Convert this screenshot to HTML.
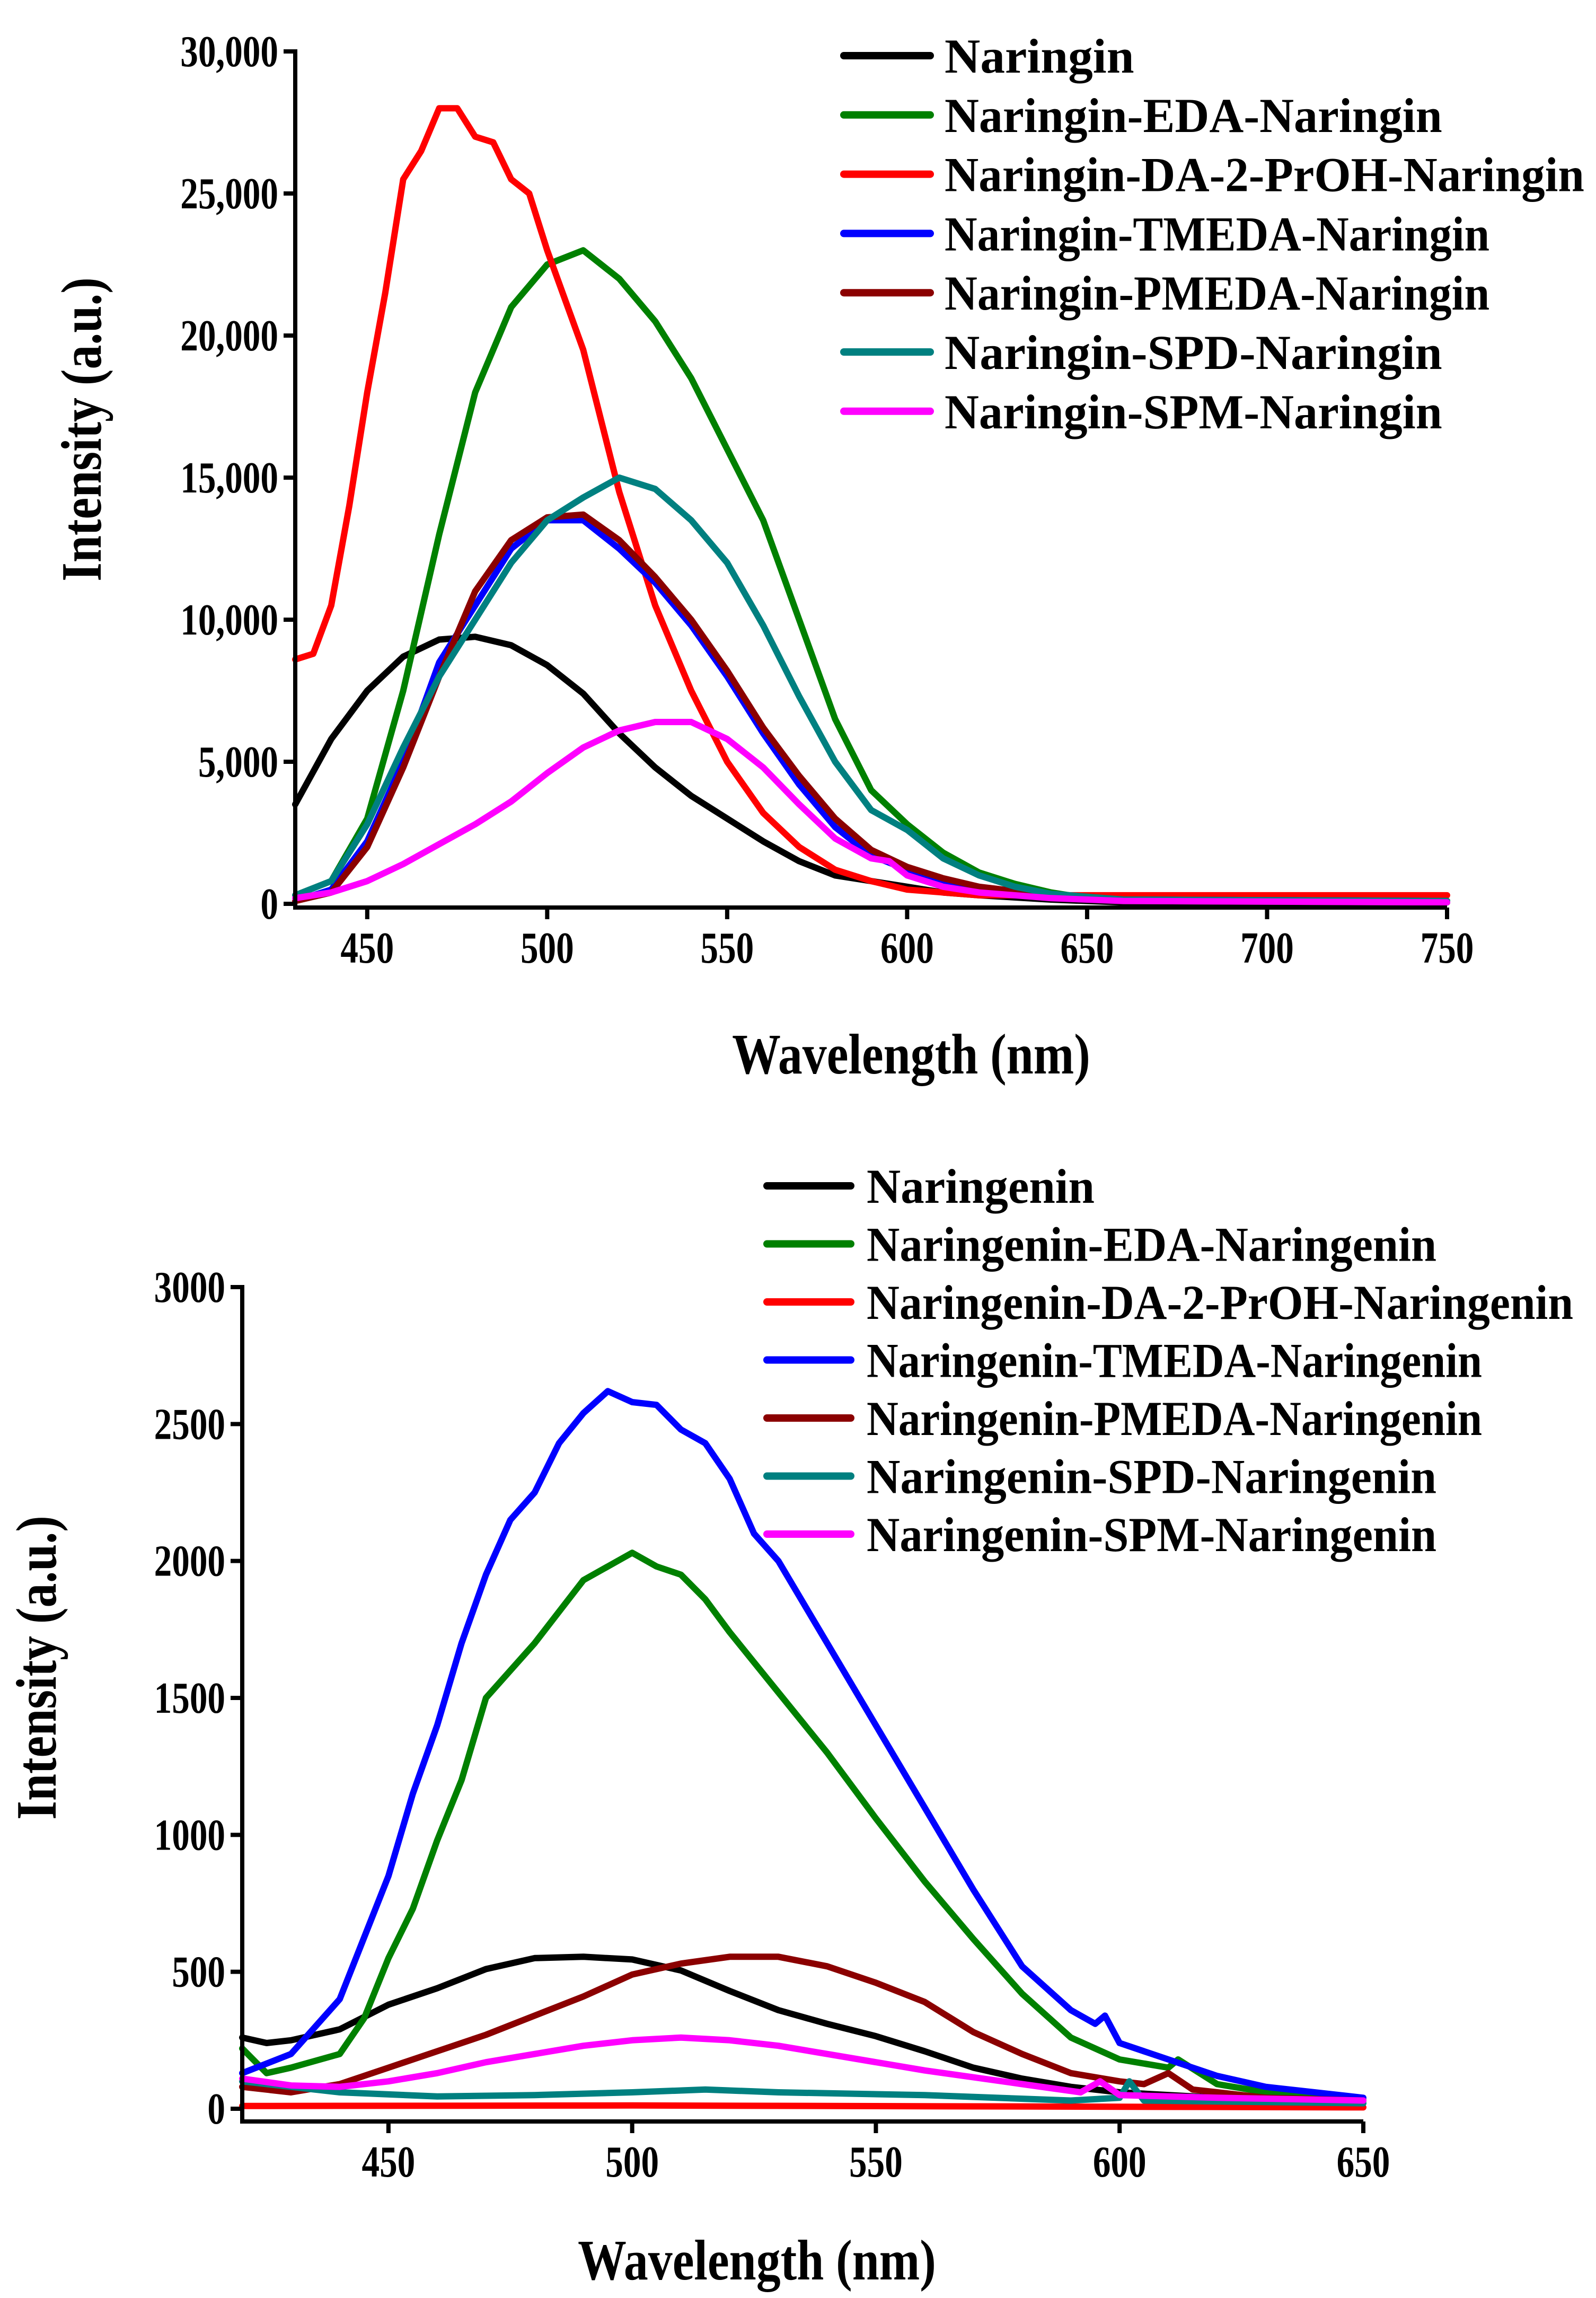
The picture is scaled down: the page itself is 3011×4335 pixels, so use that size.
<!DOCTYPE html>
<html><head><meta charset="utf-8"><style>
html,body{margin:0;padding:0;background:#fff}
svg{display:block}
text{font-family:"Liberation Serif",serif;font-weight:bold;fill:#000}
</style></head><body>
<svg id="fig" width="3011" height="4335" viewBox="0 0 3011 4335" xmlns="http://www.w3.org/2000/svg"></svg>
<script>
// ---------- Top chart data (intensity in a.u.) ----------
const topXTicks=[450,500,550,600,650,700,750];
const topYTicks=[0,5000,10000,15000,20000,25000,30000];
const topYTickLabels=["0","5,000","10,000","15,000","20,000","25,000","30,000"];
const topNames=["Naringin","Naringin-EDA-Naringin","Naringin-DA-2-PrOH-Naringin","Naringin-TMEDA-Naringin","Naringin-PMEDA-Naringin","Naringin-SPD-Naringin","Naringin-SPM-Naringin"];
const topBlackX=[430,440,450,460,470,480,490,500,510,520,530,540,550,560,570,580,590,600,610,620,640,660,750];
const topBlackY=[3500,5800,7500,8700,9300,9400,9100,8400,7400,6000,4800,3800,3000,2200,1500,1000,800,600,400,300,150,50,50];
const topGreenX=[430,440,450,460,470,480,490,500,510,520,530,540,550,560,570,580,590,600,610,620,630,640,650,660,750];
const topGreenY=[300,800,3000,7500,13000,18000,21000,22500,23000,22000,20500,18500,16000,13500,10000,6500,4000,2800,1800,1100,700,400,200,100,50];
const topRedX=[430,435,440,445,450,455,460,465,470,475,480,485,490,495,500,510,520,530,540,550,560,570,580,590,600,620,650,750];
const topRedY=[8600,8800,10500,14000,18000,21500,25500,26500,28000,28000,27000,26800,25500,25000,23000,19500,14500,10500,7500,5000,3200,2000,1200,800,500,300,300,300];
const topBlueX=[430,440,450,460,470,480,490,500,510,520,530,540,550,560,570,580,590,600,610,620,640,660,750];
const topBlueY=[100,500,2200,5000,8500,10500,12500,13500,13500,12500,11300,9800,8000,6000,4200,2700,1700,1200,800,500,300,150,100];
const topMaroonX=[430,440,450,460,470,480,490,500,510,520,530,540,550,560,570,580,590,600,610,620,640,660,750];
const topMaroonY=[100,400,2000,4800,8000,11000,12800,13600,13700,12800,11500,10000,8200,6200,4500,3000,1900,1300,900,600,300,150,100];
const topTealX=[430,440,450,460,470,480,490,500,510,520,530,540,550,560,570,580,590,600,610,620,630,640,660,750];
const topTealY=[300,800,2800,5500,8000,10000,12000,13500,14300,15000,14600,13500,12000,9800,7300,5000,3300,2600,1600,1000,600,350,150,100];
const topPinkX=[430,440,450,460,470,480,490,500,510,520,530,540,550,560,570,580,590,595,600,610,620,640,660,750];
const topPinkY=[200,400,800,1400,2100,2800,3600,4600,5500,6100,6400,6400,5800,4800,3500,2300,1600,1500,1000,600,400,200,100,50];

// ---------- Bottom chart data ----------
const botXTicks=[450,500,550,600,650];
const botYTicks=[0,500,1000,1500,2000,2500,3000];
const botYTickLabels=["0","500","1000","1500","2000","2500","3000"];
const botNames=["Naringenin","Naringenin-EDA-Naringenin","Naringenin-DA-2-PrOH-Naringenin","Naringenin-TMEDA-Naringenin","Naringenin-PMEDA-Naringenin","Naringenin-SPD-Naringenin","Naringenin-SPM-Naringenin"];
const botBlackX=[420,425,430,440,450,460,470,480,490,500,510,520,530,540,550,560,570,580,590,600,620,650];
const botBlackY=[260,240,250,290,380,440,510,550,555,545,505,430,360,310,265,210,150,110,80,60,40,30];
const botGreenX=[420,425,430,440,445,450,455,460,465,470,480,490,500,505,510,515,520,530,540,550,560,570,580,590,600,610,612,620,630,650];
const botGreenY=[220,130,150,200,330,550,730,980,1200,1500,1700,1930,2030,1980,1950,1860,1740,1520,1300,1060,830,620,420,260,180,150,180,90,60,30];
const botRedX=[420,500,650];
const botRedY=[10,12,5];
const botBlueX=[420,430,440,450,455,460,465,470,475,480,485,490,495,500,505,510,515,520,525,530,540,550,560,570,580,590,595,597,600,610,620,630,650];
const botBlueY=[130,200,400,850,1150,1400,1700,1950,2150,2250,2430,2540,2620,2580,2570,2480,2430,2300,2100,2000,1700,1400,1100,800,520,360,310,340,240,180,120,80,40];
const botMaroonX=[420,430,440,450,460,470,480,490,500,510,520,530,540,550,560,570,580,590,600,605,610,615,630,650];
const botMaroonY=[80,60,90,150,210,270,340,410,490,530,555,555,520,460,390,280,200,130,100,90,130,70,40,30];
const botTealX=[420,440,460,480,500,515,530,560,590,600,602,605,650];
const botTealY=[100,60,45,50,60,70,60,50,30,40,100,30,20];
const botPinkX=[420,430,440,450,460,470,480,490,500,510,520,530,540,560,580,592,596,600,620,650];
const botPinkY=[110,85,80,100,130,170,200,230,250,260,250,230,200,140,90,60,100,50,40,30];

const colors=["#000000","#008000","#ff0000","#0000ff","#8b0000","#008080","#ff00ff"];
const NS="http://www.w3.org/2000/svg";
const svg=document.getElementById('fig');
function mk(tag,attrs,parent){const e=document.createElementNS(NS,tag);for(const k in attrs)e.setAttribute(k,attrs[k]);(parent||svg).appendChild(e);return e;}
const CX=0.8;

function drawChart(cfg){
  const g=mk('g',{});
  
  
  const sx=v=>cfg.px0+(v-cfg.x0)/(cfg.x1-cfg.x0)*(cfg.px1-cfg.px0);
  const sy=v=>cfg.py0+(v-cfg.y0)/(cfg.y1-cfg.y0)*(cfg.py1-cfg.py0);
  cfg.series.forEach((s,i)=>{
    const d=s.x.map((xv,j)=>(j?'L':'M')+sx(xv).toFixed(1)+' '+sy(s.y[j]).toFixed(1)).join(' ');
    const p=mk('path',{d:d,fill:'none',stroke:colors[i],'stroke-width':cfg.lw,'stroke-linejoin':'round','stroke-linecap':'round'},g);
    
    
  });
  const ax=mk('path',{d:`M${cfg.px0} ${cfg.py1-4} L${cfg.px0} ${cfg.axisY} L${cfg.px1} ${cfg.axisY}`,fill:'none',stroke:'#000','stroke-width':8},g);
  
  
  cfg.xt.forEach(v=>{
    const x=sx(v);
    const t=mk('line',{x1:x,x2:x,y1:cfg.axisY,y2:cfg.axisY+22,stroke:'#000','stroke-width':8},g);
    
    
    const l=mk('text',{x:0,y:0,'font-size':84,'text-anchor':'middle',transform:`translate(${x},${cfg.axisY+104}) scale(${CX},1)`},g);
    l.textContent=v;
    
    
  });
  cfg.yt.forEach((v,k)=>{
    const y=sy(v);
    const t=mk('line',{x1:cfg.px0-22,x2:cfg.px0,y1:y,y2:y,stroke:'#000','stroke-width':8},g);
    
    
    const l=mk('text',{x:0,y:0,'font-size':84,'text-anchor':'end',transform:`translate(${cfg.px0-32},${y+28}) scale(${CX},1)`},g);
    l.textContent=cfg.ytl[k];
    
    
  });
  const xt=mk('text',{x:0,y:0,'font-size':108,'text-anchor':'middle',transform:`translate(${cfg.xtX},${cfg.xtY}) scale(0.85,1)`},g);
  xt.textContent='Wavelength (nm)';
  
  
  const yt=mk('text',{x:0,y:0,'font-size':108,'text-anchor':'middle',transform:`translate(${cfg.ytX},${cfg.ytY}) rotate(-90) scale(0.85,1)`},g);
  yt.textContent='Intensity (a.u.)';
  
  
  cfg.names.forEach((n,i)=>{
    const y=cfg.legY[0]+i*cfg.legDy;
    const lg=mk('g',{},g);
    
    
    mk('line',{x1:cfg.legX1,x2:cfg.legX2,y1:y,y2:y,stroke:colors[i],'stroke-width':14,'stroke-linecap':'round'},lg);
    const t=mk('text',{x:cfg.legTx,y:y+32,'font-size':92,textLength:n.length*cfg.charW,lengthAdjust:'spacingAndGlyphs'},lg);
    t.textContent=n;
  });
}

drawChart({id:'naringin',x0:430,x1:750,px0:557,px1:2730,y0:0,y1:30000,py0:1705,py1:97,axisY:1712,lw:12,
  xt:topXTicks,yt:topYTicks,ytl:topYTickLabels,names:topNames,
  series:[{x:topBlackX,y:topBlackY},{x:topGreenX,y:topGreenY},{x:topRedX,y:topRedY},{x:topBlueX,y:topBlueY},{x:topMaroonX,y:topMaroonY},{x:topTealX,y:topTealY},{x:topPinkX,y:topPinkY}],
  xtX:1719,xtY:2025,ytX:190,ytY:810,legX1:1592,legX2:1755,legTx:1782,legY:[105],legDy:111.8,charW:44.7});

drawChart({id:'naringenin',x0:420,x1:650,px0:457,px1:2572,y0:0,y1:3000,py0:3978,py1:2428,axisY:4002,lw:12,
  xt:botXTicks,yt:botYTicks,ytl:botYTickLabels,names:botNames,
  series:[{x:botBlackX,y:botBlackY},{x:botGreenX,y:botGreenY},{x:botRedX,y:botRedY},{x:botBlueX,y:botBlueY},{x:botMaroonX,y:botMaroonY},{x:botTealX,y:botTealY},{x:botPinkX,y:botPinkY}],
  xtX:1428,xtY:4300,ytX:105,ytY:3146,legX1:1447,legX2:1605,legTx:1635,legY:[2237],legDy:109.5,charW:43});
</script>
</body></html>
